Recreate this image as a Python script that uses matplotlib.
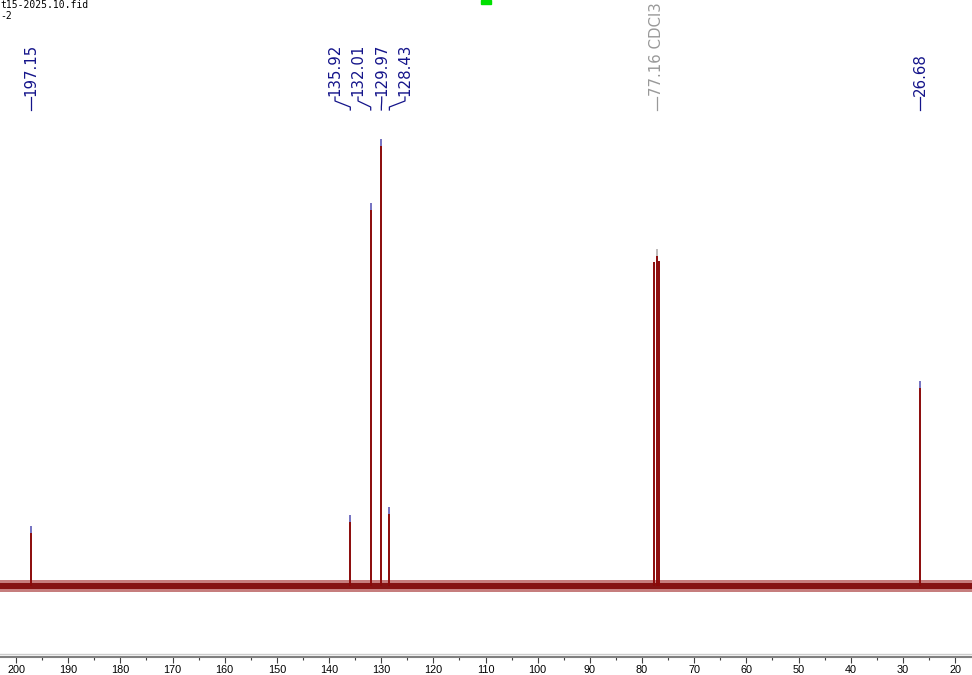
import matplotlib
matplotlib.use("Agg")
import matplotlib.pyplot as plt
from matplotlib.patches import Rectangle

# 13C NMR peaks (ppm) and heights (tallest = 100)
peak_ppm = [197.15, 135.92, 132.01, 129.97, 128.43, 77.64, 77.16, 76.72, 26.68]
peak_height = [13.4, 15.9, 85.7, 100.0, 17.7, 72.5, 75.4, 72.7, 45.9]
peak_tip = ["#7878c8", "#7878c8", "#7878c8", "#7878c8", "#7878c8", None, "#c0c0c0", None, "#7878c8"]

# peak labels: text, peak position, label position (ppm), colour
label_text = ["197.15", "135.92", "132.01", "129.97", "128.43", "77.16 CDCl3", "26.68"]
label_peak = [197.15, 135.92, 132.01, 129.97, 128.43, 77.16, 26.68]
label_pos = [197.15, 138.85, 134.44, 129.90, 125.44, 77.16, 26.68]
label_color = ["#14148a"] * 5 + ["#999999", "#14148a"]

noise_amp = 1.4
x_ticks = list(range(200, 19, -10))
x_minor = list(range(195, 24, -10))
x_left, x_right = 203.07, 16.75

W, H = 972, 675
fig = plt.figure(figsize=(W / 100, H / 100), dpi=100)
ax_bottom = 657  # pixel from top of the axis line
ax = fig.add_axes([0, (H - ax_bottom) / H, 1, ax_bottom / H])

px_per_unit = 4.47
base_px = 586


def yfrac(py):
    # pixel from top of figure -> axes fraction
    return (ax_bottom - py) / ax_bottom


# baseline noise band
ax.fill_between([x_left, x_right], -noise_amp, noise_amp, color="#a02828", alpha=0.6, lw=0)
ax.fill_between([x_left, x_right], -noise_amp * 0.55, noise_amp * 0.55, color="#7a0000", alpha=0.85, lw=0)

tip_len = 7 / px_per_unit
for p, h, tc in zip(peak_ppm, peak_height, peak_tip):
    ax.vlines(p, 0, h, color="#8b0a0a", lw=1.4)
    if tc:
        ax.vlines(p, h - tip_len, h, color=tc, lw=1.4)

tr = ax.get_xaxis_transform()
for t, pk, lp, c in zip(label_text, label_peak, label_pos, label_color):
    ax.text(lp, yfrac(96), t, rotation=90, ha="center", va="bottom", color=c,
            fontsize=10.8, family="DejaVu Sans", transform=tr)
    ax.plot([lp, lp, pk, pk], [yfrac(97), yfrac(101), yfrac(107), yfrac(110)],
            color=c, lw=0.9, transform=tr, clip_on=False)

for s in ["top", "left", "right"]:
    ax.spines[s].set_visible(False)
ax.spines["bottom"].set_color("#808080")
ax.spines["bottom"].set_linewidth(1.5)
ax.plot([0, 1], [yfrac(654)] * 2, color="#cccccc", lw=1, transform=ax.transAxes, clip_on=False)

ax.set_yticks([])
ax.set_xticks(x_ticks)
ax.set_xticks(x_minor, minor=True)
ax.tick_params(axis="x", which="major", length=4, width=0.8, color="#404040", pad=2,
               labelsize=7.8, labelfontfamily="Liberation Sans")
ax.tick_params(axis="x", which="minor", length=2.5, width=0.8, color="#404040")
ax.set_xlim(x_left, x_right)
ax.set_ylim(-(ax_bottom - base_px) / px_per_unit, base_px / px_per_unit)

fig.text(0.0, 1.0, "t15-2025.10.fid\n-2", ha="left", va="top", fontsize=7,
         family="DejaVu Sans Mono", linespacing=1.1)
fig.patches.append(Rectangle((481 / W, 1 - 4 / H), 10 / W, 4 / H, color="#00e000",
                             transform=fig.transFigure, figure=fig))

fig.savefig("out.png", dpi=100)
